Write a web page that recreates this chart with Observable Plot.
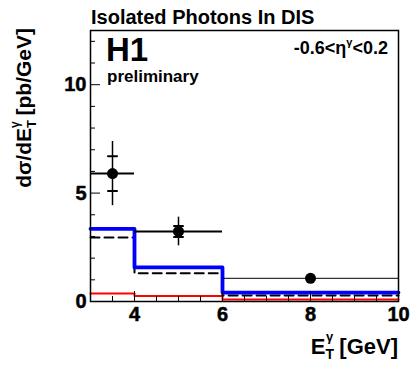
<!DOCTYPE html>
<html><head><meta charset="utf-8">
<script src="https://cdn.jsdelivr.net/npm/d3@7"></script>
<script src="https://cdn.jsdelivr.net/npm/@observablehq/plot@0.6"></script>
<style>body{margin:0;background:#fff;} #chart svg{display:block;font-family:"Liberation Sans",Arial,sans-serif;}</style>
</head><body><div id="chart"></div>
<script>
// ---- data ----
const binEdges = [3, 4, 6, 10];
const blueHist = [3.35, 1.57, 0.41];      // total prediction (blue)
const dashedHist = [2.95, 1.30, 0.28];    // dashed black prediction
const redHist = [0.37, 0.25, 0.09];       // red component
const dataX = [3.5, 5, 8];
const dataXlo = [3, 4, 6];
const dataXhi = [4, 6, 10];
const dataY = [5.9, 3.23, 1.07];
const statErr = [0.8, 0.25, 0.03];
const totErr = [1.48, 0.66, 0.06];
const xMajor = [4, 6, 8, 10];
const xMinor = [3.5, 4.5, 5, 5.5, 6.5, 7, 7.5, 8.5, 9, 9.5];
const yMajor = [0, 5, 10];
const yMinor = [1, 2, 3, 4, 6, 7, 8, 9, 11, 12];

const W = 419, H = 373, mL = 90, mR = 21, mT = 30, mB = 72;
const pw = W - mL - mR, ph = H - mT - mB;

const step = vals => binEdges.map((e, i) => ({x: e, y: vals[Math.min(i, vals.length - 1)]}));
const pts = dataX.map((x, i) => ({x, xlo: dataXlo[i], xhi: dataXhi[i], y: dataY[i],
  slo: dataY[i] - statErr[i], shi: dataY[i] + statErr[i],
  tlo: dataY[i] - totErr[i], thi: dataY[i] + totErr[i]}));
const statEnds = pts.filter((d, i) => i < 2).flatMap(p => [{x: p.x, y: p.slo}, {x: p.x, y: p.shi}]);
const hline = {draw(c, l) { c.moveTo(0, 0); c.lineTo(0, -l); }};

const chart = Plot.plot({
  width: W, height: H, marginLeft: mL, marginRight: mR, marginTop: mT, marginBottom: mB,
  x: {domain: [3, 10], axis: null},
  y: {domain: [0, 12.5], axis: null},
  style: {fontFamily: "Liberation Sans, Arial, sans-serif", background: "white"},
  marks: [
    Plot.line(step(redHist), {x: "x", y: "y", curve: "step-after", stroke: "#ff0000", strokeWidth: 2}),
    Plot.line(step(dashedHist), {x: "x", y: "y", curve: "step-after", stroke: "black", strokeWidth: 2, strokeDasharray: "9,5"}),
    Plot.line(step(blueHist), {x: "x", y: "y", curve: "step-after", stroke: "#0000ff", strokeWidth: 3.8}),
    Plot.ruleY(pts, {filter: (d, i) => i < 2, y: "y", x1: "xlo", x2: "xhi", stroke: "black", strokeWidth: 2}),
    Plot.ruleY(pts, {filter: (d, i) => i >= 2, y: "y", x1: "xlo", x2: "xhi", stroke: "black", strokeWidth: 1}),
    Plot.ruleX(pts, {x: "x", y1: "tlo", y2: "thi", stroke: "black", strokeWidth: 1.5}),
    Plot.vector(statEnds, {x: "x", y: "y", length: 9, rotate: 90, anchor: "middle", shape: hline, stroke: "black", strokeWidth: 2}),
    Plot.dot(pts, {x: "x", y: "y", r: 5.5, fill: "black"}),
    // inward ticks
    Plot.ruleY(yMajor, {y: d => d, insetRight: pw - 10, stroke: "black"}),
    Plot.ruleY(yMinor, {y: d => d, insetRight: pw - 5, stroke: "black"}),
    Plot.ruleX(xMajor, {x: d => d, insetTop: ph - 10, stroke: "black"}),
    Plot.ruleX(xMinor, {x: d => d, insetTop: ph - 5, stroke: "black"}),
    Plot.frame({stroke: "black", strokeWidth: 1.5}),
    // tick labels
    Plot.text(yMajor, {y: d => d, frameAnchor: "left", dx: -4, text: d => String(d), textAnchor: "end", fontSize: 20, fontWeight: "bold", fill: "black", stroke: "black", strokeWidth: 0.5}),
    Plot.text(xMajor, {x: d => d, frameAnchor: "bottom", dy: 13, text: d => String(d), lineAnchor: "middle", fontSize: 20, fontWeight: "bold", fill: "black", stroke: "black", strokeWidth: 0.5})
  ]
});
document.getElementById("chart").appendChild(chart);

const svg = d3.select(chart);
const g = svg.append("g").attr("fill", "black").attr("text-anchor", "start")
  .attr("font-family", "Liberation Sans, Arial, sans-serif").attr("font-weight", "bold");
g.append("text").attr("x", 91).attr("y", 24).attr("font-size", 20).text("Isolated Photons In DIS");
g.append("text").attr("x", 106).attr("y", 61).attr("font-size", 33).text("H1");
g.append("text").attr("x", 107).attr("y", 82).attr("font-size", 17).text("preliminary");

const eta = g.append("text").attr("x", 388).attr("y", 54).attr("font-size", 18).attr("text-anchor", "end");
eta.append("tspan").text("-0.6<η");
eta.append("tspan").attr("font-size", 11).attr("dy", -8).text("γ");
eta.append("tspan").attr("dy", 8).text("<0.2");

const xl = g.append("text").attr("x", 398).attr("y", 354).attr("font-size", 22).attr("text-anchor", "end");
xl.append("tspan").text("E");
xl.append("tspan").attr("font-size", 14).attr("dy", 5).text("T");
xl.append("tspan").attr("font-size", 13).attr("dx", -8).attr("dy", -18).text("γ");
xl.append("tspan").attr("dy", 13).text(" [GeV]");

const yl = g.append("text").attr("transform", "translate(31,28) rotate(-90)").attr("font-size", 21).attr("text-anchor", "end");
yl.append("tspan").text("dσ/dE");
yl.append("tspan").attr("font-size", 13).attr("dy", 5).text("T");
yl.append("tspan").attr("font-size", 12).attr("dx", -8).attr("dy", -17).text("γ");
yl.append("tspan").attr("dy", 12).text(" [pb/GeV]");
</script></body></html>
